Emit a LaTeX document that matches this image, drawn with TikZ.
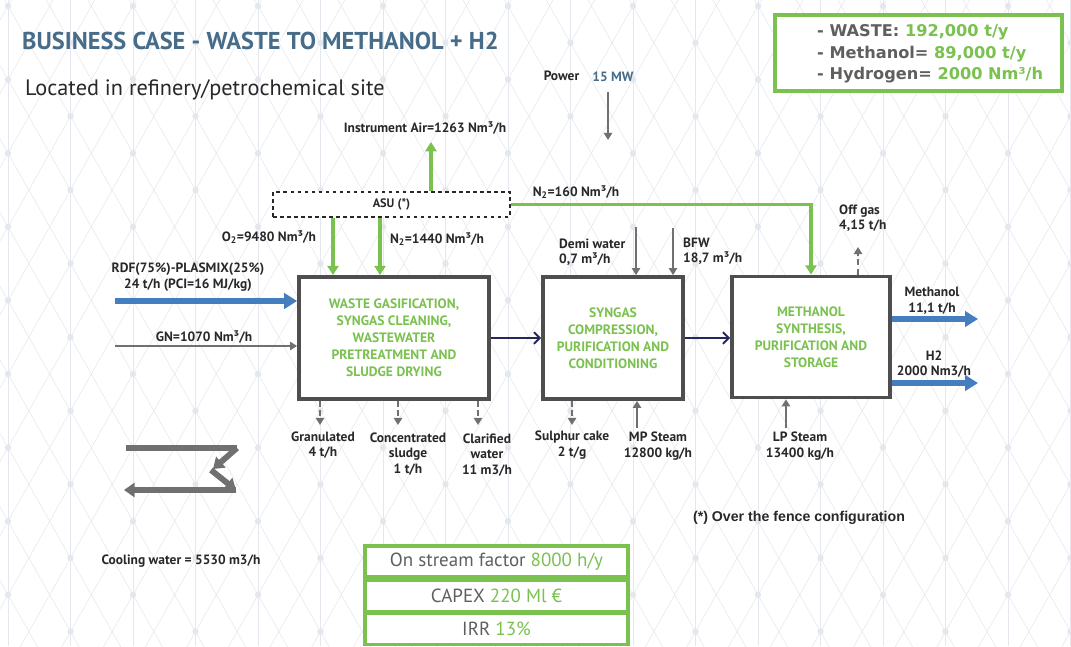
\documentclass[tikz,border=0pt]{standalone}
\usepackage{fontspec}
\setmainfont{PT Sans}
\newfontfamily\arialfont{Liberation Sans}
\newfontfamily\widefont{DejaVu Sans}
\usetikzlibrary{arrows.meta,positioning,calc,shadows}
\definecolor{Slate}{RGB}{70,108,138}
\definecolor{Leaf}{RGB}{122,193,80}
\definecolor{Ink}{RGB}{40,40,40}
\definecolor{Stone}{RGB}{95,95,95}
\definecolor{BoxGray}{RGB}{78,78,78}
\definecolor{PipeGray}{RGB}{112,112,112}
\definecolor{Steel}{RGB}{68,126,190}
\definecolor{Navy}{RGB}{38,38,92}
\definecolor{Mesh}{RGB}{228,231,237}
\tikzset{
  unit/.style={draw=BoxGray,line width=3.2pt,fill=white,drop shadow={shadow xshift=1.2pt,shadow yshift=-1.2pt,opacity=.35},text=Leaf,font=\fontsize{11.6}{14.5}\selectfont\bfseries,align=center},
  infobox/.style={draw=Leaf,line width=2.8pt,fill=white,inner sep=0pt},
  tag/.style={font=\fontsize{11.5}{13.2}\selectfont\bfseries,text=Ink,align=center,inner sep=0pt},
  greenarrow/.style={-{Triangle[length=8pt,width=9.5pt]},draw=Leaf,line width=3.4pt},
  grayarrow/.style={-{Triangle[length=6pt,width=7pt]},draw=PipeGray,line width=2pt},
  graydash/.style={-{Triangle[length=6pt,width=7pt]},draw=PipeGray,line width=2.4pt,dash pattern=on 5pt off 3pt},
  bluearrow/.style={-{Triangle[length=11pt,width=13pt]},draw=Steel,line width=5pt},
  navyarrow/.style={-{Straight Barb[length=5pt,width=10pt,line width=1.6pt]},draw=Navy,line width=1.8pt},
  coolpipe/.style={draw=PipeGray,line width=5pt,drop shadow={shadow xshift=1pt,shadow yshift=-1pt,opacity=.3}},
  coolhead/.style={coolpipe,-{Triangle[length=9pt,width=12pt]}}
}

\begin{document}
\begin{tikzpicture}[x=0.03cm,y=-0.03cm]
\useasboundingbox (0,0) rectangle (1071,646);
\fill[white] (0,0) rectangle (1071,646);
% background mesh
\begin{scope}
\clip (0,0) rectangle (1071,646);
\foreach \r in {-3,...,18}{
  \pgfmathsetmacro{\yy}{6+36.8*\r}
  \pgfmathsetmacro{\off}{isodd(\r) ? 70.5 : 8}
  \foreach \c in {-1,...,9}{
    \pgfmathsetmacro{\xx}{\off+125*\c}
    \draw[Mesh,line width=0.45pt] (\xx,\yy) -- ++(62.5,110.4) (\xx,\yy) -- ++(-62.5,110.4);
    \fill[Mesh] (\xx,\yy) circle (3.2);
  }
}
\foreach \c in {0,...,17}{
  \draw[Mesh,line width=0.45pt] (8+62.5*\c,0) -- (8+62.5*\c,646);
}
\end{scope}

% headings
\node[anchor=west,inner sep=0pt,text=Slate,font=\fontsize{20.8}{22}\selectfont\bfseries] (title) at (22,41) {BUSINESS CASE - WASTE TO METHANOL + H2};
\node[anchor=west,inner sep=0pt,text=Ink,font=\fontsize{19}{21}\selectfont] (site) at (25,90) {Located in refinery/petrochemical site};

\node[infobox,minimum width=8.61cm,minimum height=2.28cm] (summary) at (918.5,53) {};
\node[anchor=west,inner sep=0pt,align=left,text=Stone,font=\widefont\fontsize{13.8}{18.4}\selectfont\bfseries] (summarytext) at (817,54)
  {- WASTE: \textcolor{Leaf}{192,000 t/y}\\- Methanol= \textcolor{Leaf}{89,000 t/y}\\- Hydrogen= \textcolor{Leaf}{2000 Nm³/h}};

% process units
\node[unit,minimum width=5.7cm,minimum height=3.66cm] (gas) at (394,338) {WASTE GASIFICATION,\\SYNGAS CLEANING,\\WASTEWATER\\PRETREATMENT AND\\SLUDGE DRYING};
\node[unit,minimum width=4.2cm,minimum height=3.66cm] (comp) at (613,338) {SYNGAS\\COMPRESSION,\\PURIFICATION AND\\CONDITIONING};
\node[unit,minimum width=4.74cm,minimum height=3.63cm] (synth) at (811,337) {METHANOL\\SYNTHESIS,\\PURIFICATION AND\\STORAGE};
\node[draw=Ink,dashed,line width=0.9pt,fill=white,minimum width=7.11cm,minimum height=0.75cm,font=\fontsize{10.5}{11}\selectfont\bfseries,text=Ink] (asu) at (391.5,204.5) {ASU (*)};

% labels
\node[tag] (power) at (561.5,76) {Power};
\node[tag,text=Slate] (powerval) at (613,77) {15 MW};
\node[tag] (air) at (425,128) {Instrument Air=1263 Nm³/h};
\node[tag] (o2) at (269,237) {O\textsubscript{2}=9480 Nm³/h};
\node[tag] (n2a) at (437,239) {N\textsubscript{2}=1440 Nm³/h};
\node[tag] (n2b) at (576,192) {N\textsubscript{2}=160 Nm³/h};
\node[tag] (rdf) at (188,277) {RDF(75\%)-PLASMIX(25\%)\\24 t/h (PCI=16 MJ/kg)};
\node[tag] (gn) at (204,337) {GN=1070 Nm³/h};
\node[tag,anchor=west,align=left] (demi) at (559,252) {Demi water\\0,7 m³/h};
\node[tag,anchor=west,align=left] (bfw) at (683,251) {BFW\\18,7 m³/h};
\node[tag,anchor=west,align=left] (offgas) at (839,218) {Off gas\\4,15 t/h};
\node[tag] (meoh) at (932,301) {Methanol\\11,1 t/h};
\node[tag] (h2) at (934,364) {H2\\2000 Nm3/h};
\node[tag] (gran) at (323,445) {Granulated\\4 t/h};
\node[tag] (sludge) at (408,454) {Concentrated\\sludge\\1 t/h};
\node[tag] (clar) at (487,455) {Clarified\\water\\11 m3/h};
\node[tag] (sulphur) at (572,445) {Sulphur cake\\2 t/g};
\node[tag] (mp) at (658,446) {MP Steam\\12800 kg/h};
\node[tag] (lp) at (800,446) {LP Steam\\13400 kg/h};
\node[tag,font=\arialfont\fontsize{12.1}{13}\selectfont\bfseries] (fence) at (799,518) {(*) Over the fence configuration};
\node[tag,font=\fontsize{11.5}{12}\selectfont\bfseries] (cooling) at (181,561) {Cooling water = 5530 m3/h};

% economics
\node[infobox,minimum width=7.89cm,minimum height=0.93cm,text=Stone,font=\fontsize{16.2}{18}\selectfont] (stream) at (496.5,561.5) {On stream factor \textcolor{Leaf}{8000 h/y}};
\node[infobox,minimum width=7.89cm,minimum height=0.93cm,text=Stone,font=\fontsize{16.2}{18}\selectfont] (capex) at (496.5,596) {CAPEX \textcolor{Leaf}{220 Ml €}};
\node[infobox,minimum width=7.89cm,minimum height=0.93cm,text=Stone,font=\fontsize{16.2}{18}\selectfont] (irr) at (496.5,629) {IRR \textcolor{Leaf}{13\%}};

% connector ends
\coordinate (airtip) at (431,142);
\coordinate (o2x) at (333,250);
\coordinate (n2x) at (380,250);
\coordinate (pwtop) at (608,92);
\coordinate (pwend) at (608,140);
\coordinate (demitop) at (636,227);
\coordinate (bfwtop) at (673,228);
\coordinate (offtip) at (858,247);
\coordinate (rdfin) at (115,301);
\coordinate (gnin) at (115,346);
\coordinate (meohtip) at (978,319);
\coordinate (h2tip) at (978,383);
\coordinate (grantip) at (320,425);
\coordinate (sludgetip) at (398,425);
\coordinate (clartip) at (478,425);
\coordinate (sulphurtip) at (572,425);
\coordinate (mpin) at (637,428);
\coordinate (lpin) at (786,428);

% air separation
\draw[greenarrow] (airtip |- asu.north) -- (airtip);
\draw[greenarrow] (asu.south -| o2x) -- (o2x |- gas.north);
\draw[greenarrow] (asu.south -| n2x) -- (n2x |- gas.north);
\draw[greenarrow] (asu.east) -| (synth.north);

% feeds and utilities
\draw[grayarrow] (pwtop) -- (pwend);
\draw[bluearrow] (rdfin) -- (rdfin -| gas.west);
\draw[grayarrow] (gnin) -- (gnin -| gas.west);
\draw[grayarrow] (demitop) -- (demitop |- comp.north);
\draw[grayarrow] (bfwtop) -- (bfwtop |- comp.north);
\draw[grayarrow] (mpin) -- (mpin |- comp.south);
\draw[grayarrow] (lpin) -- (lpin |- synth.south);

% main line
\draw[navyarrow] (gas.east) -- (comp.west);
\draw[navyarrow] (comp.east) -- (comp.east -| synth.west);

% products and residues
\draw[bluearrow] (meohtip -| synth.east) -- (meohtip);
\draw[bluearrow] (h2tip -| synth.east) -- (h2tip);
\draw[graydash] (offtip |- synth.north) -- (offtip);
\draw[graydash] (grantip |- gas.south) -- (grantip);
\draw[graydash] (sludgetip |- gas.south) -- (sludgetip);
\draw[graydash] (clartip |- gas.south) -- (clartip);
\draw[graydash] (sulphurtip |- comp.south) -- (sulphurtip);

% cooling water symbol
\coordinate (cw1) at (126,448);
\coordinate (cw2) at (237,448);
\coordinate (cw3) at (213,469);
\coordinate (cw4) at (211,470);
\coordinate (cw5) at (236,490);
\coordinate (cw6) at (124,490);
\draw[coolpipe] (cw1) -- (cw2);
\draw[coolhead] (cw2) -- (cw3);
\draw[coolhead] (cw4) -- (cw5);
\draw[coolhead] (cw5) -- (cw6);
\end{tikzpicture}
\end{document}
